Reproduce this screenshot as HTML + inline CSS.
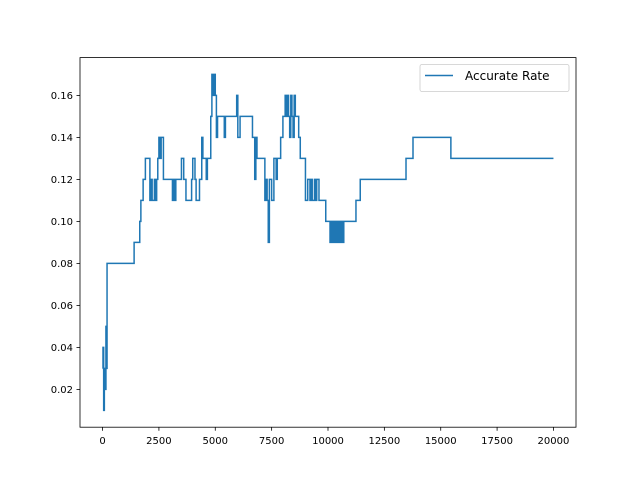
<!DOCTYPE html>
<html><head><meta charset="utf-8"><style>body{margin:0;background:#fff}svg{display:block;font-family:"DejaVu Sans","Liberation Sans",sans-serif}</style></head>
<body>
<svg id="c" width="640" height="480">
<rect x="80" y="57.6" width="496" height="369.6" fill="#fff"/>
<g id="series"></g>
<rect x="80" y="57.6" width="496" height="369.6" fill="none" stroke="#000" stroke-width="0.8"/>
<g id="ticks" font-size="10" fill="#000"></g>
<g>
<rect x="420" y="64.5" width="149" height="27" rx="2" fill="#fff" stroke="#ccc" stroke-width="0.8" fill-opacity="0.8"/>
<line x1="425" y1="75.5" x2="453" y2="75.5" stroke="#1f77b4" stroke-width="1.5"/>
<text x="465" y="80" font-size="12">Accurate Rate</text>
</g>
</svg>
<script>
const stepX=[0,20,50,80,120,150,170,200,
1400,1650,1700,1800,1900,2100,2150,2200,2300,2350,2400,2450,2500,2550,2600,2700,
3100,3150,3200,3250,3500,3600,3700,3950,4000,4100,4150,4300,4400,4450,4600,4650,
4800,4850,4880,4910,4950,4980,5000,5050,5100,5400,5450,5950,6000,6100,6650,
6750,6800,6850,7200,7250,7300,7350,7400,7500,7600,7700,7750,7900,8000,
8100,8150,8200,8250,8300,8350,8400,8450,8500,8550,8600,8700,8770,
9000,9100,9200,9250,9300,9400,9450,9500,9600,9800,9900,
10090,10130,10170,10210,10250,10300,10350,10400,10450,10500,10550,10600,10650,10700,10800,
11240,11430,13460,13770,15450,20000];
const stepY=[0.03,0.04,0.01,0.03,0.02,0.05,0.03,0.08,
0.09,0.10,0.11,0.12,0.13,0.11,0.12,0.11,0.12,0.11,0.12,0.13,0.14,0.13,0.14,0.12,
0.11,0.12,0.11,0.12,0.13,0.12,0.11,0.12,0.13,0.12,0.11,0.12,0.14,0.13,0.12,0.13,
0.15,0.17,0.16,0.17,0.16,0.17,0.16,0.14,0.15,0.14,0.15,0.16,0.14,0.15,0.14,
0.12,0.14,0.13,0.11,0.12,0.11,0.09,0.12,0.11,0.13,0.12,0.13,0.14,0.15,
0.16,0.15,0.16,0.15,0.14,0.16,0.15,0.14,0.16,0.15,0.15,0.14,0.13,
0.11,0.12,0.11,0.12,0.11,0.12,0.11,0.12,0.11,0.11,0.10,
0.09,0.10,0.09,0.10,0.09,0.10,0.09,0.10,0.09,0.10,0.09,0.10,0.09,0.10,0.10,
0.11,0.12,0.13,0.14,0.13,0.13];
const xTicks=[0,2500,5000,7500,10000,12500,15000,17500,20000];
const yTicks=[0.02,0.04,0.06,0.08,0.10,0.12,0.14,0.16];
const X=v=>80+(v+1000)/22000*496;
const Y=v=>427.2-(v-0.002)/0.176*369.6;
const ns='http://www.w3.org/2000/svg';
let d='';
for(let i=0;i<stepX.length;i++){
  d+=(i?'L':'M')+X(stepX[i]).toFixed(2)+','+(i?Y(stepY[i-1]).toFixed(2):Y(stepY[0]).toFixed(2));
  if(i)d+='L'+X(stepX[i]).toFixed(2)+','+Y(stepY[i]).toFixed(2);
}
const p=document.createElementNS(ns,'path');
p.setAttribute('d',d);p.setAttribute('fill','none');p.setAttribute('stroke','#1f77b4');p.setAttribute('stroke-width','1.5');


document.getElementById('series').appendChild(p);
const g=document.getElementById('ticks');
xTicks.forEach(t=>{
  const l=document.createElementNS(ns,'line');
  l.setAttribute('x1',X(t));l.setAttribute('x2',X(t));l.setAttribute('y1',427.2);l.setAttribute('y2',430.7);l.setAttribute('stroke','#000');l.setAttribute('stroke-width','0.8');
  
  
  g.appendChild(l);
  const s=document.createElementNS(ns,'text');
  s.setAttribute('x',X(t));s.setAttribute('y',444);s.setAttribute('text-anchor','middle');s.textContent=t;
  
  
  g.appendChild(s);
});
yTicks.forEach(t=>{
  const l=document.createElementNS(ns,'line');
  l.setAttribute('x1',76.5);l.setAttribute('x2',80);l.setAttribute('y1',Y(t));l.setAttribute('y2',Y(t));l.setAttribute('stroke','#000');l.setAttribute('stroke-width','0.8');
  
  
  g.appendChild(l);
  const s=document.createElementNS(ns,'text');
  s.setAttribute('x',73);s.setAttribute('y',Y(t)+3.5);s.setAttribute('text-anchor','end');s.textContent=t.toFixed(2);
  
  
  g.appendChild(s);
});
</script>
</body></html>
